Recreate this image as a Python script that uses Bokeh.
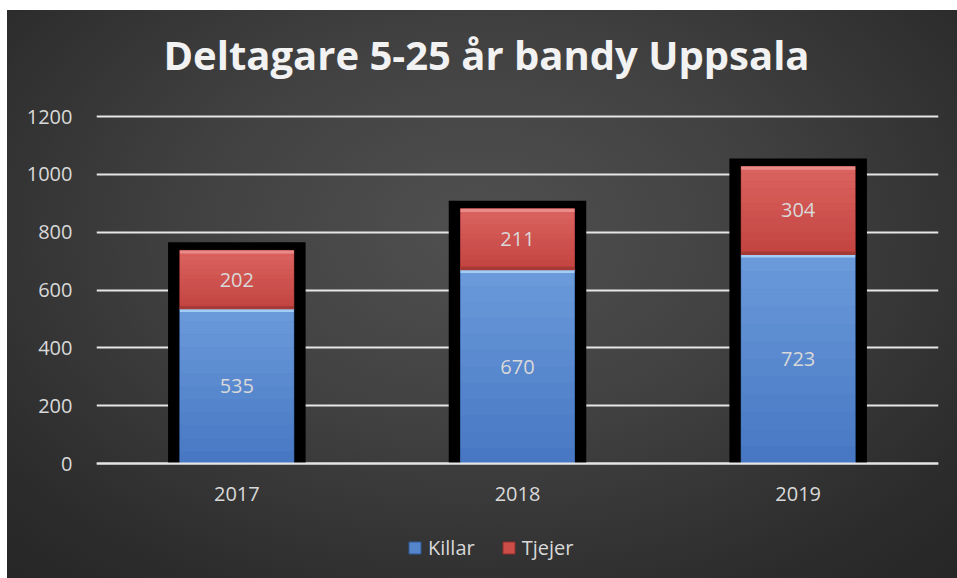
from bokeh.plotting import figure
from bokeh.models import (ColumnDataSource, Legend, LegendItem, LabelSet, Label,
                          FixedTicker, Range1d)
from bokeh.embed import file_html
from bokeh.resources import INLINE
from bokeh.core.properties import value

# ---- data ----
years = ["2017", "2018", "2019"]
killar = [535, 670, 723]
tjejer = [202, 211, 304]
y_ticks = [0, 200, 400, 600, 800, 1000, 1200]
title_text = "Deltagare 5-25 år bandy Uppsala"
series_names = ["Killar", "Tjejer"]

totals = [k + t for k, t in zip(killar, tjejer)]

FONT = "Open Sans"
TXT = "#d9d9d9"

# layout (pixels) -> y range so that 0..1200 sits at the reference's place
CANVAS_H = 578
Y0_PX, Y1200_PX = 463, 116
PX_PER_UNIT = (Y0_PX - Y1200_PX) / 1200.0
Y_START = -(CANVAS_H - Y0_PX) / PX_PER_UNIT
Y_END = Y0_PX / PX_PER_UNIT


def mix(c1, c2, f):
    a = [int(c1[i:i + 2], 16) for i in (1, 3, 5)]
    b = [int(c2[i:i + 2], 16) for i in (1, 3, 5)]
    return "#%02x%02x%02x" % tuple(round(x + (y - x) * f) for x, y in zip(a, b))


src = ColumnDataSource(dict(
    year=years,
    killar=killar,
    tjejer=tjejer,
    total=totals,
    zero=[0] * len(years),
    shadow_top=[t + 28 for t in totals],
    k_mid=[k / 2 for k in killar],
    t_mid=[k + t / 2 for k, t in zip(killar, tjejer)],
    k_lab=[str(k) for k in killar],
    t_lab=[str(t) for t in tjejer],
))

p = figure(x_range=years, y_range=Range1d(Y_START, Y_END),
           frame_width=842, frame_height=CANVAS_H,
           output_backend="svg", toolbar_location=None,
           min_border_left=96, min_border_right=19, min_border_top=0,
           min_border_bottom=0)
p.title = None
p.background_fill_color = None
p.border_fill_color = None
p.outline_line_color = None
p.styles = {"background": (
    "linear-gradient(#ffffff, #ffffff) 0 0 / 100% 10px no-repeat, "
    "linear-gradient(#ffffff, #ffffff) 0 0 / 7px 100% no-repeat, "
    "radial-gradient(ellipse 75% 85% at 50% 40%, #505050 0%, #414141 40%, #2c2c2c 80%, #252525 100%)")}

# grid
p.xgrid.grid_line_color = None
p.ygrid.grid_line_color = "#e6e6e6"
p.ygrid.grid_line_width = 2
p.yaxis.ticker = FixedTicker(ticks=y_ticks)

# axes
p.yaxis.axis_line_color = None
p.yaxis.major_tick_line_color = None
p.yaxis.minor_tick_line_color = None
p.yaxis.major_label_standoff = 18
p.yaxis.major_label_text_font = FONT
p.yaxis.major_label_text_font_size = "20px"
p.yaxis.major_label_text_color = TXT

p.xaxis.fixed_location = 0
p.xaxis.axis_line_color = "#e6e6e6"
p.xaxis.axis_line_width = 2
p.xaxis.major_tick_line_color = None
p.xaxis.minor_tick_line_color = None
p.xaxis.major_label_standoff = 17
p.xaxis.major_label_text_font = FONT
p.xaxis.major_label_text_font_size = "20px"
p.xaxis.major_label_text_color = TXT

# shadow behind bars
p.vbar(x="year", bottom="zero", top="shadow_top", width=0.49, source=src,
       fill_color="black", line_color=None)

BW = 0.406
N = 12
# Killar segment (legend renderer)
r_k = p.vbar(x="year", bottom="zero", top="killar", width=BW, source=src,
             fill_color="#5585cb", line_color="#2f5a96", line_width=1)
for i in range(N):
    f0, f1 = i / N, (i + 1) / N
    p.vbar(x=years, bottom=[k * f0 for k in killar], top=[k * f1 for k in killar],
           width=BW, fill_color=mix("#4677c2", "#6c9bdb", (i + 0.5) / N),
           line_color=None)
p.vbar(x=years, bottom=[k - 11 for k in killar], top=killar, width=BW,
       fill_color="#a4cdf6", line_color=None)

# Tjejer segment (legend renderer)
r_t = p.vbar(x="year", bottom="killar", top="total", width=BW, source=src,
             fill_color="#cf4d49", line_color="#8f2f2c", line_width=1)
for i in range(N):
    f0, f1 = i / N, (i + 1) / N
    p.vbar(x=years, bottom=[k + t * f0 for k, t in zip(killar, tjejer)],
           top=[k + t * f1 for k, t in zip(killar, tjejer)],
           width=BW, fill_color=mix("#c2433f", "#db6461", (i + 0.5) / N),
           line_color=None)
p.vbar(x=years, bottom=killar, top=[k + 10 for k in killar], width=BW,
       fill_color="#a53935", line_color=None)
p.vbar(x=years, bottom=[s - 11 for s in totals], top=totals, width=BW,
       fill_color="#e98c89", line_color=None)

# data labels
for col, lab in (("k_mid", "k_lab"), ("t_mid", "t_lab")):
    p.add_layout(LabelSet(x="year", y=col, text=lab, source=src,
                          text_align="center", text_baseline="middle",
                          text_font=value(FONT), text_font_size=value("20px"),
                          text_color=TXT))

# title (inside the frame, screen units from frame bottom-left)
p.add_layout(Label(x=486 - 96, y=CANVAS_H - 54, x_units="screen", y_units="screen",
                   text=title_text, text_align="center", text_baseline="alphabetic",
                   text_font=FONT, text_font_style="bold",
                   text_font_size="40px", text_color="#f2f2f2"))

# legend
legend = Legend(items=[LegendItem(label=series_names[0], renderers=[r_k]),
                       LegendItem(label=series_names[1], renderers=[r_t])],
                orientation="horizontal", location=(408 - 96 - 6, 12),
                label_text_font=FONT, label_text_font_size="20px",
                label_text_color=TXT, glyph_width=15, glyph_height=15,
                label_standoff=6, spacing=26, margin=0,
                padding=5, background_fill_alpha=0, border_line_alpha=0)
p.add_layout(legend, "center")

open("out.html", "w").write(file_html(p, INLINE))
